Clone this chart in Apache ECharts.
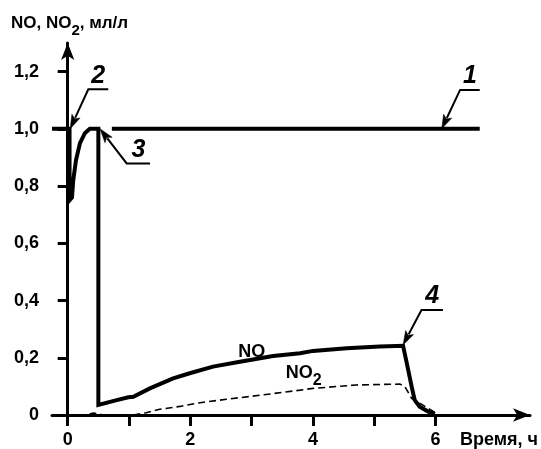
<!DOCTYPE html>
<html><head><meta charset="utf-8">
<script src="https://cdn.jsdelivr.net/npm/echarts@6/dist/echarts.min.js"></script>
<style>html,body{margin:0;padding:0;background:#fff}#c{width:541px;height:449px}</style>
</head><body><div id="c"></div>
<script>
// ---- data ----
const xTicks = [0, 1, 2, 3, 4, 5, 6];
const xLabels = [0, 2, 4, 6];
const yTicks = [0, 0.2, 0.4, 0.6, 0.8, 1.0, 1.2];
const line1Start = [[-0.256,1.0],[0.03,1.0],[0.03,0.75],[0.07,0.76],[0.09,0.82],[0.135,0.89],[0.2,0.95],[0.28,0.985],[0.36,1.0],[0.5,1.0],[0.5,0.035]];
const line1End = [[0.72,1.0],[6.72,1.0]];
const noCurve = [[0.5,0.035],[0.8,0.052],[0.99,0.062],[1.07,0.064],[1.34,0.093],[1.72,0.128],[1.99,0.146],[2.37,0.169],[2.81,0.186],[3.35,0.206],[3.79,0.216],[4.0,0.224],[4.55,0.233],[5.09,0.239],[5.47,0.242],[5.52,0.192],[5.61,0.099],[5.66,0.052],[5.74,0.029],[5.88,0.012],[5.99,0.004]];
const no2Curve = [[0,0],[0.3,0.0],[0.42,0.007],[0.55,0.002],[0.7,0],[1.07,0],[1.28,0.008],[1.5,0.02],[1.83,0.03],[2.16,0.043],[2.59,0.055],[3.14,0.069],[3.79,0.087],[4.0,0.093],[4.71,0.105],[5.42,0.108],[5.5,0.099],[5.61,0.058],[5.74,0.041],[5.93,0.017],[6.02,0.004]];
const calloutLabels = ['1', '2', '3', '4'];
const calloutTips = [[6.1,1.0],[0.04,1.0],[0.527,1.0],[5.47,0.245]];
const calloutElbows = [[6.40,1.136],[0.336,1.138],[0.962,0.879],[5.77,0.367]];
const calloutEnds = [[6.72,1.136],[0.662,1.138],[1.342,0.879],[6.12,0.367]];
const curveLabels = ['NO', 'NO2'];
const curveLabelPos = [[3.0,0.227],[3.85,0.155]];

// ---- chart ----
const FONT = '"Liberation Sans", Arial, sans-serif';
const chart = echarts.init(document.getElementById('c'));

chart.setOption({
  animation: false,
  backgroundColor: '#fff',
  grid: {left: 52, right: 11, top: 43, bottom: 34},
  xAxis: {
    type: 'value', min: -0.256, max: 7.54,
    splitLine: {show: false},
    axisLine: {lineStyle: {color: '#000', width: 3}, symbol: ['none', 'arrow'], symbolSize: [10, 17]},
    axisTick: {customValues: xTicks, length: 11, lineStyle: {color: '#000', width: 3}},
    axisLabel: {customValues: xLabels, margin: 16, color: '#000', fontFamily: FONT, fontWeight: 'bold', fontSize: 18}
  },
  yAxis: {
    type: 'value', min: 0, max: 1.3,
    splitLine: {show: false},
    axisLine: {lineStyle: {color: '#000', width: 3}, symbol: ['none', 'arrow'], symbolSize: [10, 17]},
    axisTick: {customValues: yTicks, length: 10, lineStyle: {color: '#000', width: 3}},
    axisLabel: {customValues: yTicks, margin: 13, color: '#000', fontFamily: FONT, fontWeight: 'bold', fontSize: 18,
      formatter: v => v.toFixed(1).replace('.', ',').replace(/^0,0$/, '0')}
  },
  series: [
    {type: 'line', data: line1Start.concat(noCurve), showSymbol: false, symbol: 'none',
      lineStyle: {color: '#000', width: 4, join: 'miter'}, z: 3},
    {type: 'line', data: line1End, showSymbol: false, symbol: 'none',
      lineStyle: {color: '#000', width: 4}, z: 3,
      markPoint: {silent: true, symbol: 'circle', symbolSize: 0,
        data: curveLabels.map((t, i) => ({coord: curveLabelPos[i], label: {show: true, position: 'inside',
          formatter: t === 'NO2' ? '{a|NO}{s|2}' : '{a|NO}',
          rich: {a: {fontFamily: FONT, fontWeight: 'bold', fontSize: 18, color: '#000', lineHeight: 22, verticalAlign: 'bottom'},
                 s: {fontFamily: FONT, fontWeight: 'bold', fontSize: 16, color: '#000', lineHeight: 22, verticalAlign: 'bottom', padding: [0,0,-7,0]}}}}))}
    },
    {type: 'line', data: no2Curve, showSymbol: false, symbol: 'none',
      lineStyle: {color: '#000', width: 1.6, type: [7, 4]}, z: 2}
  ]
});

// callouts drawn via the chart's own coordinate conversion
const graphics = [
  {type: 'text', left: 11, top: 15, style: {
    text: '{a|NO, NO}{s|2}{a|, мл/л}',
    rich: {a: {fontFamily: FONT, fontWeight: 'bold', fontSize: 17, fill: '#000', lineHeight: 20, verticalAlign: 'bottom'},
           s: {fontFamily: FONT, fontWeight: 'bold', fontSize: 15, fill: '#000', lineHeight: 20, verticalAlign: 'bottom', padding: [0,0,-6,0]}}}},
  {type: 'text', left: 460, top: 431, style: {text: 'Время, ч', fontFamily: FONT, fontWeight: 'bold', fontSize: 18, fill: '#000'}}
];
const AL = 14, AW = 4.5;
calloutLabels.forEach((lab, i) => {
  const tip = chart.convertToPixel({gridIndex: 0}, calloutTips[i]);
  const elb = chart.convertToPixel({gridIndex: 0}, calloutElbows[i]);
  const end = chart.convertToPixel({gridIndex: 0}, calloutEnds[i]);
  const dx = tip[0] - elb[0], dy = tip[1] - elb[1];
  const L = Math.hypot(dx, dy), ux = dx / L, uy = dy / L;
  const bx = tip[0] - ux * AL, by = tip[1] - uy * AL;
  graphics.push({type: 'polyline', shape: {points: [end, elb, [bx + ux * 2, by + uy * 2]]},
    style: {stroke: '#000', lineWidth: 2, fill: null}});
  graphics.push({type: 'polygon', shape: {points: [tip, [bx - uy * AW, by + ux * AW], [bx - uy * AW * 0 + ux * 3, by + uy * 3], [bx + uy * AW, by - ux * AW]]},
    style: {fill: '#000', stroke: '#000', lineWidth: 0.5}});
  graphics.push({type: 'text', x: (elb[0] + end[0]) / 2, y: elb[1] - 1,
    style: {text: lab, fontFamily: FONT, fontWeight: 'bold', fontStyle: 'italic', fontSize: 25, fill: '#000',
      align: 'center', verticalAlign: 'bottom'}});
});
chart.setOption({graphic: graphics});
</script></body></html>
